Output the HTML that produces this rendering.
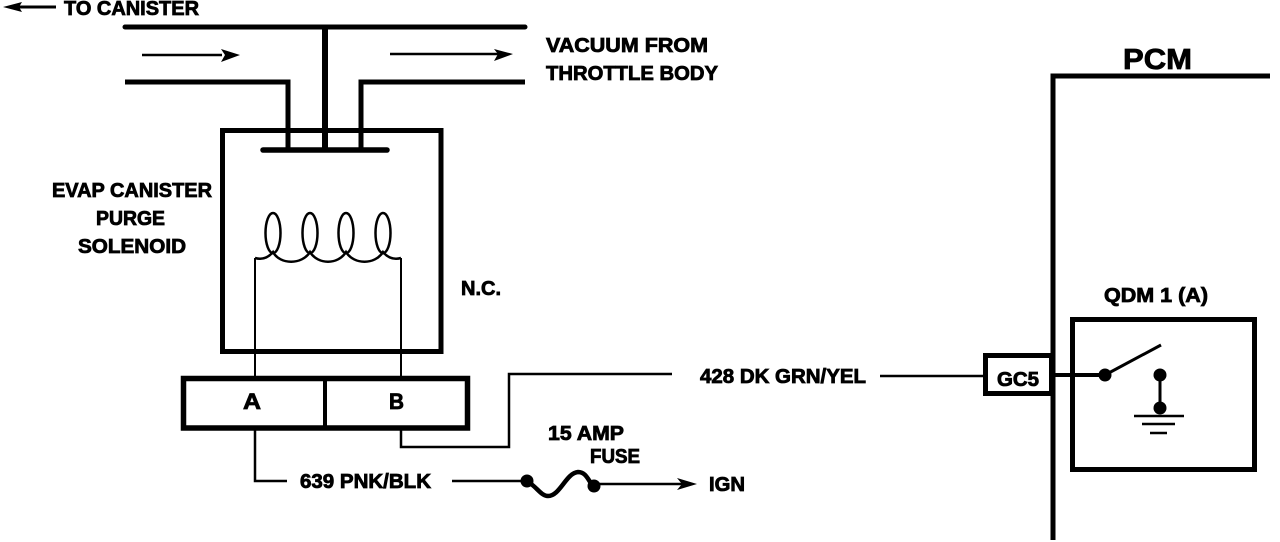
<!DOCTYPE html>
<html>
<head>
<meta charset="utf-8">
<style>
html,body{margin:0;padding:0;background:#fff;width:1280px;height:542px;overflow:hidden}
svg{display:block}
text{font-family:"Liberation Sans",sans-serif;font-weight:bold;font-size:20px;fill:#000;stroke:#000;stroke-width:.8px}
</style>
</head>
<body>
<svg width="1280" height="542" viewBox="0 0 1280 542" xmlns="http://www.w3.org/2000/svg">
<g fill="none" stroke="#000" stroke-linejoin="miter">
  <!-- Vacuum lines -->
  <path d="M125 27H525" stroke-width="5" stroke-linecap="round"/>
  <path d="M125 82H288V150" stroke-width="5"/>
  <path d="M525 82H361V150" stroke-width="5"/>
  <path d="M325 27V150" stroke-width="6"/>
  <!-- Solenoid box -->
  <rect x="222.500" y="130.500" width="218.500" height="221" stroke-width="5"/>
  <path d="M263 150H387" stroke-width="5.500" stroke-linecap="round"/>
  <!-- Coil -->
  <g stroke-width="2.500">
    <ellipse cx="273" cy="233" rx="7.500" ry="20"/>
    <ellipse cx="310" cy="233" rx="7.500" ry="20"/>
    <ellipse cx="346" cy="233" rx="7.500" ry="20"/>
    <ellipse cx="383" cy="233" rx="7.500" ry="20"/>
    <path d="M255 258C262 260 268 258 273 252C280 265 302 265 310 252C318 265 338 265 346 252C354 265 375 265 383 252C388 258 394 260 401 258"/>
    <path d="M255 258V377M401 258V377" stroke-width="2"/>
  </g>
  <!-- Connector -->
  <rect x="183.500" y="378.500" width="284" height="49.500" stroke-width="5.500"/>
  <path d="M325 378V428" stroke-width="4"/>
  <!-- Wires -->
  <path d="M255 428V481H287" stroke-width="2.500"/>
  <path d="M401 428V447H509V374H672" stroke-width="2.500"/>
  <path d="M452 481H527" stroke-width="2.500"/>
  <path d="M880 376H985" stroke-width="2.500"/>
  <!-- Fuse -->
  <path d="M527 481C537 487 541 496 548 496C560 496 566 473 578 472C586 472 588 480 593 486" stroke-width="4.500"/>
  <path d="M593 484H685" stroke-width="2.500"/>
  <path d="M19 7H56" stroke-width="3"/>
  <path d="M142 55H222" stroke-width="2.500"/>
  <path d="M390 54H500" stroke-width="2.500"/>
  <!-- PCM -->
  <path d="M1053 540V76H1270" stroke-width="5"/>
  <!-- GC5 box -->
  <rect x="985.500" y="355.500" width="66" height="38" stroke-width="5"/>
  <!-- QDM -->
  <rect x="1072.500" y="319.500" width="182" height="150" stroke-width="5"/>
  <path d="M1053 375H1105" stroke-width="4"/>
  <path d="M1105 375L1161 345" stroke-width="3"/>
  <path d="M1160 375V408" stroke-width="3"/>
  <path d="M1134 416H1184" stroke-width="2.500"/>
  <path d="M1142 424H1175" stroke-width="2.500"/>
  <path d="M1150 433H1167" stroke-width="2.500"/>
</g>
<g fill="#000">
  <circle cx="527" cy="481" r="6.500"/>
  <circle cx="594" cy="486" r="6.500"/>
  <circle cx="1105" cy="375" r="6.500"/>
  <circle cx="1160" cy="375" r="6.500"/>
  <circle cx="1160" cy="408" r="6.500"/>
  <path d="M3 7L22 2L19 7L22 12Z"/>
  <path d="M240 55L221 49L225 55L221 62Z"/>
  <path d="M513 54L494 49L498 54L494 61Z"/>
  <path d="M697 484L677 478L682 484L677 490Z"/>
</g>
<text x="64" y="15" textLength="135" lengthAdjust="spacingAndGlyphs">TO CANISTER</text>
<text x="546" y="52" textLength="162" lengthAdjust="spacingAndGlyphs">VACUUM FROM</text>
<text x="546" y="80" textLength="172" lengthAdjust="spacingAndGlyphs">THROTTLE BODY</text>
<text x="1123" y="69" textLength="69" lengthAdjust="spacingAndGlyphs" style="font-size:29px">PCM</text>
<text x="52" y="197" textLength="160" lengthAdjust="spacingAndGlyphs">EVAP CANISTER</text>
<text x="96" y="225" textLength="69" lengthAdjust="spacingAndGlyphs">PURGE</text>
<text x="78" y="253" textLength="108" lengthAdjust="spacingAndGlyphs">SOLENOID</text>
<text x="461" y="295" textLength="40" lengthAdjust="spacingAndGlyphs">N.C.</text>
<text x="243" y="409" textLength="18" lengthAdjust="spacingAndGlyphs" style="font-size:22px">A</text>
<text x="389" y="409" textLength="15" lengthAdjust="spacingAndGlyphs" style="font-size:22px">B</text>
<text x="300" y="488" textLength="131" lengthAdjust="spacingAndGlyphs">639 PNK/BLK</text>
<text x="700" y="383" textLength="166" lengthAdjust="spacingAndGlyphs">428 DK GRN/YEL</text>
<text x="997" y="386" textLength="42" lengthAdjust="spacingAndGlyphs">GC5</text>
<text x="1104" y="302" textLength="104" lengthAdjust="spacingAndGlyphs">QDM 1 (A)</text>
<text x="548" y="440" textLength="76" lengthAdjust="spacingAndGlyphs">15 AMP</text>
<text x="590" y="463" textLength="50" lengthAdjust="spacingAndGlyphs">FUSE</text>
<text x="709" y="491" textLength="36" lengthAdjust="spacingAndGlyphs">IGN</text>
</svg>
</body>
</html>
